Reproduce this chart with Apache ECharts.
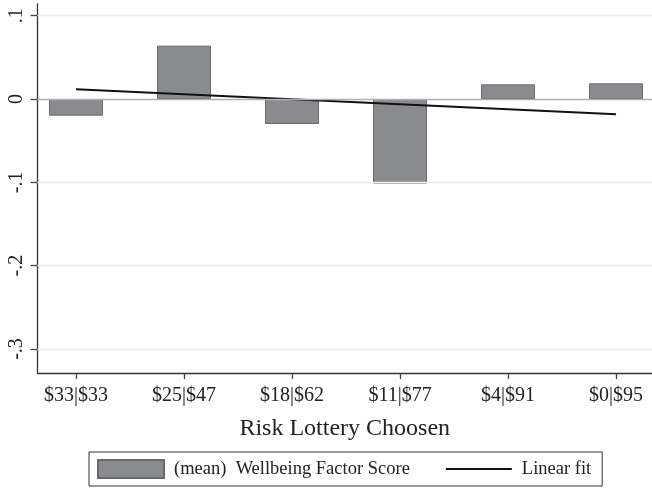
<!DOCTYPE html>
<html>
<head>
<meta charset="utf-8">
<script src="https://cdn.jsdelivr.net/npm/echarts@6/dist/echarts.min.js"></script>
<style>
  html, body { margin: 0; padding: 0; background: #fff; }
  #chart { width: 652px; height: 488px; }
</style>
</head>
<body>
<div id="chart"></div>
<script>
// Lottery choices (safe | risky payoff), one per bar
const categories = ['$33|$33', '$25|$47', '$18|$62', '$11|$77', '$4|$91', '$0|$95'];
// Mean wellbeing factor score by lottery choice
const meanScores = [-0.020, 0.064, -0.030, -0.1015, 0.0176, 0.0188];
// Linear fit evaluated at the first and last lottery
const fitX = [1, 6];
const fitY = [0.0116, -0.0184];
// Y-axis ticks and their labels
const yTicks = [0.1, 0, -0.1, -0.2, -0.3];
const yTickLabels = ['.1', '0', '-.1', '-.2', '-.3'];

const serif = '"Liberation Serif", "Times New Roman", serif';
const xPositions = categories.map((c, i) => i + 1);

const chart = echarts.init(document.getElementById('chart'), null, { renderer: 'canvas' });

chart.setOption({
  animation: false,
  backgroundColor: '#fff',
  grid: { left: 37.5, right: 0, top: 4, bottom: 115, containLabel: false },
  xAxis: {
    type: 'value',
    min: 0.6435,
    max: 6.333,
    name: 'Risk Lottery Choosen',
    nameLocation: 'middle',
    nameGap: 44,
    nameTextStyle: { fontFamily: serif, fontSize: 24, color: '#222' },
    axisLine: { show: true, onZero: false, lineStyle: { color: '#333', width: 1.3 } },
    axisTick: { show: true, inside: false, length: 6, customValues: xPositions, lineStyle: { color: '#444', width: 1.3 } },
    axisLabel: {
      customValues: xPositions,
      formatter: v => categories[Math.round(v) - 1] || '',
      fontFamily: serif, fontSize: 20, color: '#222', margin: 13
    },
    splitLine: { show: false }
  },
  yAxis: {
    type: 'value',
    min: -0.3288,
    max: 0.114,
    axisLine: { show: true, onZero: false, lineStyle: { color: '#333', width: 1.3 } },
    axisTick: { show: true, inside: false, length: 7, customValues: yTicks, lineStyle: { color: '#444', width: 1.3 } },
    axisLabel: {
      customValues: yTicks,
      rotate: 90,
      formatter: v => {
        const i = yTicks.findIndex(t => Math.abs(t - v) < 1e-9);
        return i >= 0 ? yTickLabels[i] : '';
      },
      fontFamily: serif, fontSize: 20, color: '#222', margin: 11
    },
    splitLine: { show: false }
  },
  legend: {
    left: 89, bottom: 2,
    orient: 'horizontal',
    padding: [7, 11, 7, 8],
    borderColor: '#333', borderWidth: 1,
    itemWidth: 66, itemHeight: 18, itemGap: 36,
    symbolKeepAspect: true,
    textStyle: { fontFamily: serif, fontSize: 18.5, color: '#222', padding: [0, 0, 0, 5] },
    data: [
      { name: '(mean)  Wellbeing Factor Score', icon: 'rect' },
      { name: 'Linear fit', icon: 'path://M0,0L33,0L33,1L0,1Z', itemStyle: { color: '#111' } }
    ]
  },
  series: [
    {
      // faint gridlines at the labelled ticks plus the zero reference line
      type: 'line', data: [], silent: true, symbol: 'none',
      markLine: {
        silent: true, symbol: 'none', label: { show: false },
        data: yTicks.map(t => ({
          yAxis: t,
          lineStyle: t === 0
            ? { color: '#b0b0b0', width: 1.3, type: 'solid' }
            : { color: '#ececec', width: 1.3, type: 'solid' }
        }))
      },
      z: 1
    },
    {
      name: '(mean)  Wellbeing Factor Score',
      type: 'bar',
      barWidth: 54,
      data: meanScores.map((v, i) => [xPositions[i], v]),
      itemStyle: { color: '#8a8b8f', borderColor: '#6a6a6e', borderWidth: 1 },
      z: 2
    },
    {
      name: 'Linear fit',
      type: 'line',
      symbol: 'none',
      data: fitX.map((x, i) => [x, fitY[i]]),
      lineStyle: { color: '#111', width: 2 },
      itemStyle: { color: '#111' },
      z: 3
    }
  ]
});
</script>
</body>
</html>
